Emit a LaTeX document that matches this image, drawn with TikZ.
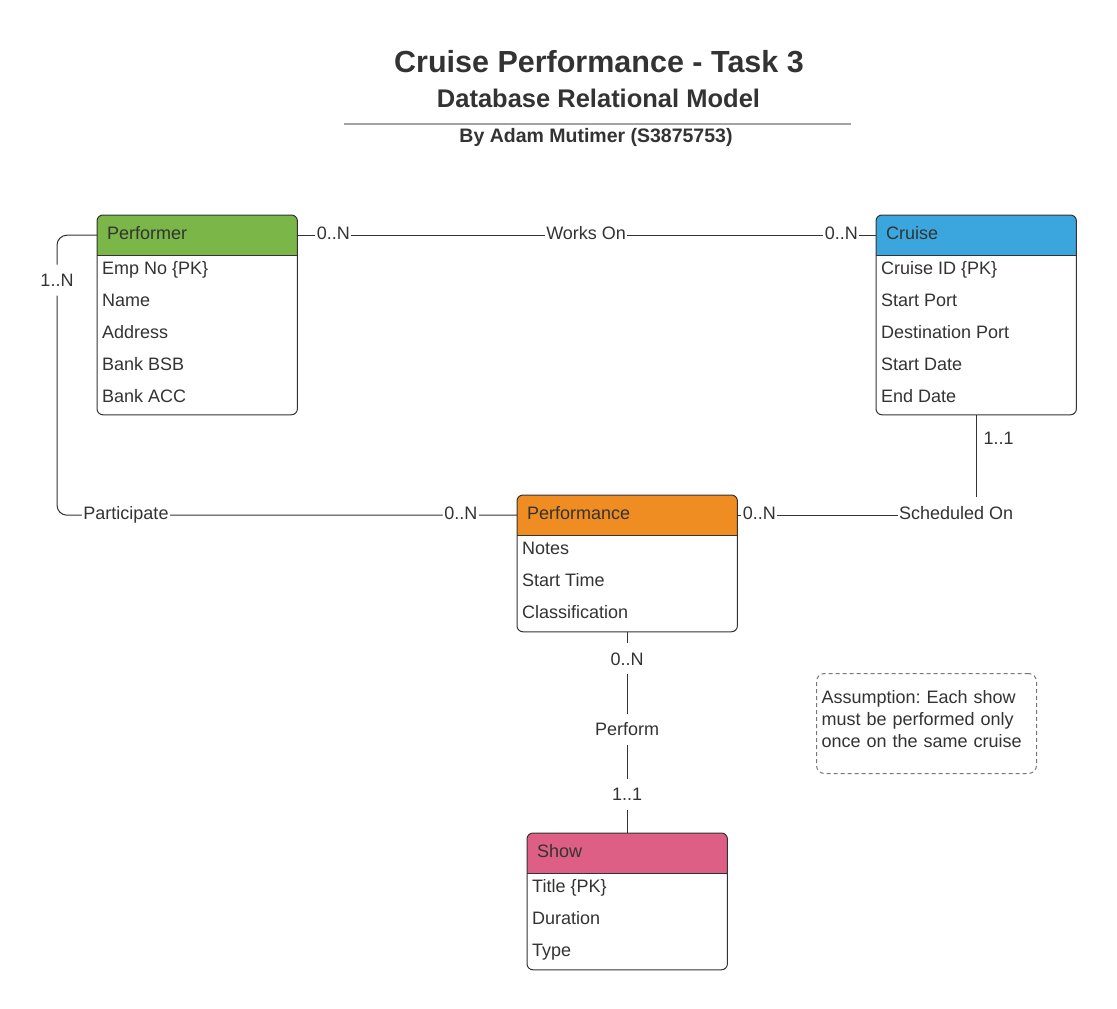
\documentclass[tikz,border=0pt]{standalone}
\usepackage{fontspec}
\setmainfont{Liberation Sans}
\frenchspacing
\pgfdeclarelayer{bg}
\pgfdeclarelayer{paper}
\pgfsetlayers{paper,bg,main}
\definecolor{ink}{HTML}{333333}
\definecolor{rulegray}{HTML}{A0A4AA}
\definecolor{notegray}{HTML}{777777}
\definecolor{cgreen}{HTML}{7AB648}
\definecolor{cblue}{HTML}{3AA6DD}
\definecolor{corange}{HTML}{F08D22}
\definecolor{cpink}{HTML}{DE5F85}
\newcommand\entity[9]{%
  % #1 name, #2 x, #3 y, #4 width, #5 text width, #6 body height, #7 colour, #8 title, #9 rows
  \node[hdr, text width=#5, anchor=north west] (#1H) at (#2,#3) {#8};
  \node[inner sep=0pt, minimum width=#4, minimum height=#6, anchor=north west] (#1B) at (#1H.south west) {};
  \begin{pgfonlayer}{bg}
    \fill[#7, rounded corners=6pt] (#1H.north west) rectangle (#1H.south east);
    \fill[#7] ([yshift=10pt]#1H.south west) rectangle (#1H.south east);
  \end{pgfonlayer}
  \draw[conn] (#1H.south west) -- (#1H.south east);
  \draw[conn, rounded corners=6pt] (#1H.north west) rectangle (#1B.south east);
  \foreach \r [count=\i] in {#9} {\node[txt, anchor=west] (#1R\i) at ([xshift=5pt, yshift=19pt-32pt*\i]#1H.south west) {\r};}
}
\begin{document}
\begin{tikzpicture}[x=1pt, y=-1pt,
  every node/.style={text=ink},
  txt/.style={font=\fontsize{18}{22}\selectfont, inner sep=0pt, text height=13pt, text depth=0pt},
  hdr/.style={txt, minimum height=40pt, inner xsep=10pt, inner ysep=0pt, align=left, text depth=4pt},
  lab/.style={txt, fill=white, inner xsep=1.5pt, inner ysep=9pt},
  hlab/.style={lab, yshift=2.5pt},
  conn/.style={draw=ink, line width=1pt},
  note/.style={draw=notegray, line width=1pt, dash pattern=on 4pt off 3pt, rounded corners=8pt},
]
\begin{pgfonlayer}{paper}
\fill[white] (0,0) rectangle (1117,1009);
\end{pgfonlayer}
\useasboundingbox (0,0) rectangle (1117,1009);

% titles
\node[font=\bfseries\fontsize{30.5}{36}\selectfont, anchor=base, inner sep=0pt] (title) at (599,72) {Cruise Performance - Task 3};
\node[font=\bfseries\fontsize{25.5}{30}\selectfont, anchor=base, inner sep=0pt] (subtitle) at (598.5,107.5) {Database Relational Model};
\draw[rulegray, line width=1.5pt] (344,124) -- (851,124);
\node[font=\bfseries\fontsize{19.5}{24}\selectfont, anchor=base, inner sep=0pt] (author) at (596,142) {By Adam Mutimer (S3875753)};

% entities
\entity{perf}{97}{215}{200}{180pt}{159}{cgreen}{Performer}{Emp No \{PK\},Name,Address,Bank BSB,Bank ACC}
\entity{cru}{876}{215}{200}{180pt}{159}{cblue}{Cruise}{Cruise ID \{PK\},Start Port,Destination Port,Start Date,End Date}
\entity{pfm}{517}{495}{220}{200pt}{96}{corange}{Performance}{Notes,Start Time,Classification}
\entity{show}{527}{833}{200}{180pt}{96}{cpink}{Show}{Title \{PK\},Duration,Type}

% relationships
\draw[conn] (perfH.east) -- node[hlab, pos=0.062] {0..N} node[hlab, pos=0.499] {Works On} node[hlab, pos=0.94] {0..N} (cruH.west);

\draw[conn, rounded corners=10pt] (perfH.west) -- ++(-40,0) |- node[lab, pos=0.08] {1..N} node[hlab, pos=0.575] {Participate} node[hlab, pos=0.939] {0..N} (pfmH.west);

\draw[conn] (pfmH.east) -| node[hlab, pos=0.046] {0..N} node[hlab, pos=0.458] {Scheduled On} node[txt, pos=0.886, anchor=west, xshift=7pt] {1..1} (cruB.south);

\draw[conn] (pfmB.south) -- node[lab, pos=0.134] {0..N} node[lab, pos=0.485] {Perform} node[lab, pos=0.807] {1..1} (showH.north);

% note
\node[note, anchor=north west, minimum width=220pt, minimum height=100pt, text width=210pt, inner xsep=5pt, inner ysep=0pt, align=left, font=\fontsize{18}{22}\selectfont] (assume) at (816,673) {Assumption: Each show\\must be performed only\\once on the same cruise\par\vspace*{8pt}};
\end{tikzpicture}
\end{document}
